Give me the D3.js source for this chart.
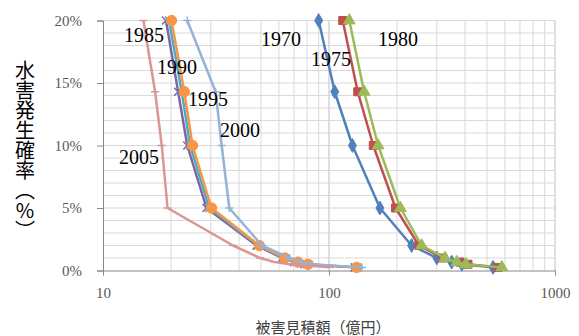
<!DOCTYPE html>
<html>
<head>
<meta charset="utf-8">
<script src="https://cdn.jsdelivr.net/npm/d3@7"></script>
<style>
  html, body { margin: 0; padding: 0; background: #fff; }
  svg { display: block; }
</style>
</head>
<body>
<svg id="chart" width="579" height="336"></svg>
<script>
// Exceedance probability (%) at each point of every curve
const probability = [20, 14.3, 10, 5, 2, 1, 0.67, 0.5, 0.25];

// Estimated damage (100 million yen) per survey year
const years = ["1970", "1975", "1980", "1985", "1990", "1995", "2000", "2005"];
const damage1970 = [90, 106, 127, 168, 232, 300, 349, 387, 532];
const damage1975 = [115, 134, 157, 197, 250, 319, 380, 412, 560];
const damage1980 = [123, 143, 165, 207, 257, 326, 368, 403, 582];
const damage1985 = [19.0, 21.5, 23.6, 28.7, 47.8, 62, 70, 78, 130];
const damage1990 = [19.6, 22.3, 24.3, 29.5, 48.5, 63, 72, 80, 133];
const damage1995 = [20.1, 22.9, 24.9, 30.2, 49.2, 63.8, 72.9, 80.8, 132.6];
const damage2000 = [23.6, 31.5, 33.5, 36.2, 50.5, 67, 75, 83, 140];
const damage2005 = [15.1, 17.0, 18.2, 19.3, 37.6, 49.5, 57.6, 67, 101];

const xTicks = [10, 100, 1000];
const yTicks = [0, 5, 10, 15, 20];

const seriesValues = [damage1970, damage1975, damage1980, damage1985,
                      damage1990, damage1995, damage2000, damage2005];
const colors = ["#4F81BD", "#C0504D", "#9BBB59", "#8064A2",
                "#4BACC6", "#F79646", "#95B3D7", "#D99694"];
const markers = ["diamond", "square", "triangle", "x", "star", "circle", "plus", "dash"];

// Year labels placed beside each curve
const labelPos = [[281, 39], [331, 59], [398, 39], [144, 35],
                  [177, 67], [208, 99], [240, 130], [139, 157]];

const svg = d3.select("#chart");
const x = d3.scaleLog().domain([10, 1000]).range([103, 555]);
const y = d3.scaleLinear().domain([0, 20]).range([270.5, 20.5]);

// Grid
const grid = svg.append("g");
const minorX = [];
[10, 100].forEach(b => { for (let k = 2; k <= 9; k++) minorX.push(b * k); });
grid.selectAll(".vx").data(minorX).join("line")
  .attr("x1", d => x(d)).attr("x2", d => x(d))
  .attr("y1", y(20)).attr("y2", y(0))
  .attr("stroke", "#d9d9d9").attr("stroke-width", 1);
grid.selectAll(".vmaj").data([100, 1000]).join("line")
  .attr("x1", d => x(d)).attr("x2", d => x(d))
  .attr("y1", y(20)).attr("y2", y(0))
  .attr("stroke", "#bfbfbf").attr("stroke-width", 1);
grid.selectAll(".hy").data(d3.range(1, 21)).join("line")
  .attr("x1", x(10)).attr("x2", x(1000))
  .attr("y1", d => y(d)).attr("y2", d => y(d))
  .attr("stroke", "#d9d9d9").attr("stroke-width", 1);

// Axes
const xAxis = svg.append("g")
  .attr("transform", `translate(0,${y(0)})`)
  .call(d3.axisBottom(x).tickValues(xTicks).tickFormat(d3.format("d"))
    .tickSize(5).tickPadding(12));
const yAxis = svg.append("g")
  .attr("transform", `translate(${x(10)},0)`)
  .call(d3.axisLeft(y).tickValues(yTicks).tickFormat(d => d + "%")
    .tickSize(6).tickPadding(15));
[xAxis, yAxis].forEach(a => {
  a.select(".domain").attr("stroke", "#868686");
  a.selectAll(".tick line").attr("stroke", "#868686");
  a.selectAll(".tick text")
    .attr("fill", "#595959")
    .style("font-family", "'Liberation Serif', 'Times New Roman', serif")
    .style("font-size", "15px");
});

// Marker drawing
function drawMarker(g, type, color) {
  const sym = {
    diamond: d3.symbolDiamond, square: d3.symbolSquare,
    triangle: d3.symbolTriangle, circle: d3.symbolCircle
  };
  if (sym[type]) {
    const size = { diamond: 55, square: 64, triangle: 60, circle: 85 }[type];
    g.append("path").attr("d", d3.symbol(sym[type], size)())
      .attr("fill", color).attr("stroke", color).attr("stroke-width", 1);
    return;
  }
  const r = 4;
  const p = d3.path();
  if (type === "x" || type === "star") {
    p.moveTo(-r, -r); p.lineTo(r, r); p.moveTo(-r, r); p.lineTo(r, -r);
    if (type === "star") { p.moveTo(0, -r); p.lineTo(0, r); }
  } else if (type === "plus") {
    p.moveTo(-r, 0); p.lineTo(r, 0); p.moveTo(0, -r); p.lineTo(0, r);
  } else if (type === "dash") {
    p.moveTo(-r, 0); p.lineTo(r, 0);
  }
  g.append("path").attr("d", p.toString())
    .attr("fill", "none").attr("stroke", color).attr("stroke-width", 1.5);
}

const line = d3.line()
  .x(d => x(d[0]))
  .y(d => y(d[1]));

seriesValues.forEach((vals, i) => {
  const pts = vals.map((v, j) => [v, probability[j]]);
  const g = svg.append("g").attr("class", "series-" + years[i]);
  g.append("path").datum(pts).attr("d", line)
    .attr("fill", "none").attr("stroke", colors[i])
    .attr("stroke-width", 2.5).attr("stroke-linejoin", "round");
  g.selectAll(".m").data(pts).join("g")
    .attr("transform", d => `translate(${x(d[0])},${y(d[1])})`)
    .each(function () { drawMarker(d3.select(this), markers[i], colors[i]); });
});

// Year labels
svg.append("g").selectAll("text").data(years).join("text")
  .attr("x", (d, i) => labelPos[i][0])
  .attr("y", (d, i) => labelPos[i][1])
  .attr("text-anchor", "middle")
  .attr("dominant-baseline", "central")
  .style("font-family", "'Liberation Serif', 'Times New Roman', serif")
  .style("font-size", "20px")
  .attr("fill", "#000")
  .text(d => d);

// Axis titles
svg.append("text")
  .attr("x", 323).attr("y", 326)
  .attr("text-anchor", "middle")
  .attr("dominant-baseline", "central")
  .style("font-family", "'Noto Sans CJK JP', sans-serif")
  .style("font-size", "15px")
  .attr("fill", "#404040")
  .text("被害見積額（億円）");

svg.append("text")
  .attr("x", 25).attr("y", 60)
  .style("writing-mode", "vertical-rl")
  .style("text-orientation", "upright")
  .style("font-family", "'Noto Sans CJK JP', sans-serif")
  .style("font-size", "20px")
  .attr("fill", "#000")
  .text("水害発生確率（%）");
</script>
</body>
</html>
